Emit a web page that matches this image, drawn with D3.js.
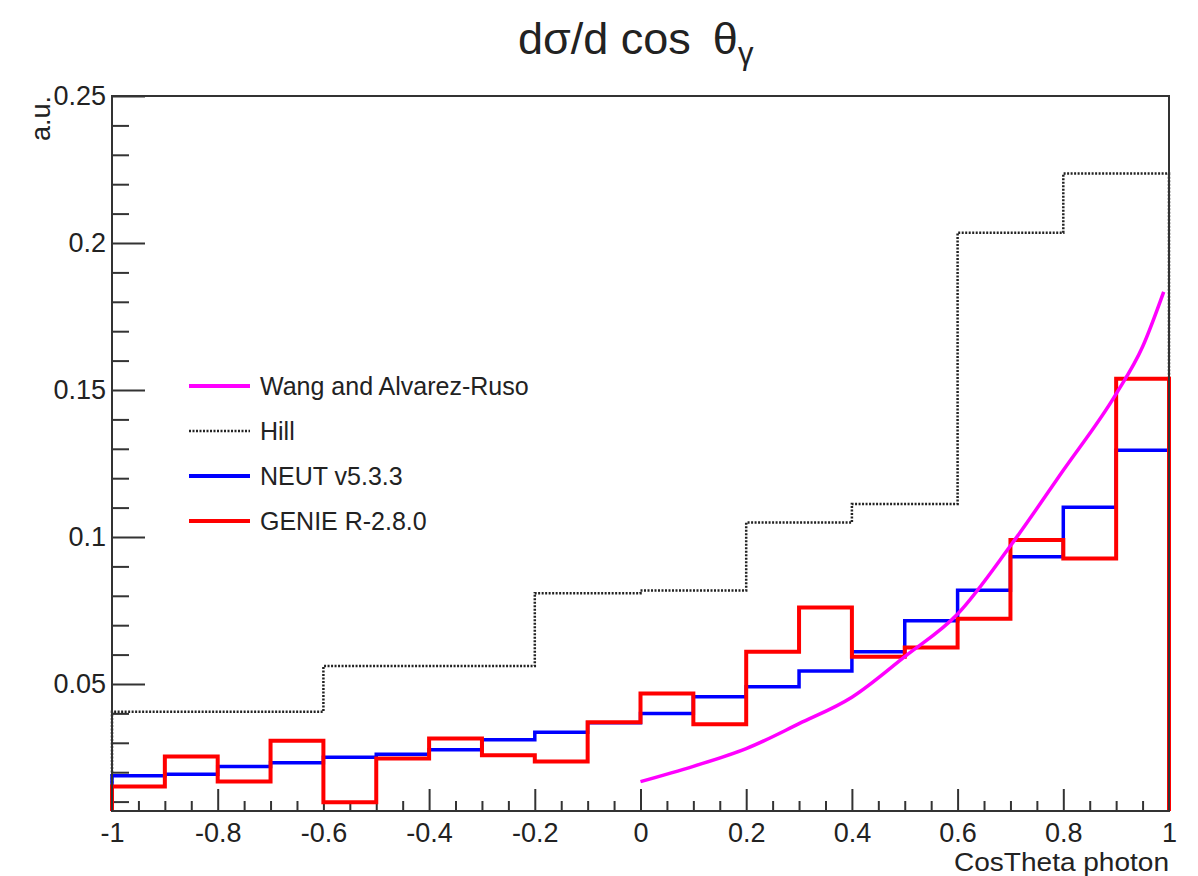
<!DOCTYPE html>
<html>
<head>
<meta charset="utf-8">
<script src="https://cdn.jsdelivr.net/npm/d3@7"></script>
<style>
  body { margin: 0; background: #fff; }
  text { font-family: "Liberation Sans", Arial, Helvetica, sans-serif; fill: #222; }
</style>
</head>
<body>
<div id="chart"></div>
<script>
// bin low edges (0.1 wide) for the generator histograms
var fineBins = [-1, -0.9, -0.8, -0.7, -0.6, -0.5, -0.4, -0.3, -0.2, -0.1,
                0, 0.1, 0.2, 0.3, 0.4, 0.5, 0.6, 0.7, 0.8, 0.9]
var fineWidth = 0.1
// Hill histogram uses 0.2 wide bins
var coarseBins = [-1, -0.8, -0.6, -0.4, -0.2, 0, 0.2, 0.4, 0.6, 0.8]
var coarseWidth = 0.2

var neut = [0.0188, 0.0193, 0.0219, 0.0232, 0.0251, 0.0261, 0.0276, 0.0310, 0.0336, 0.0368,
            0.0400, 0.0457, 0.0491, 0.0544, 0.0610, 0.0715, 0.0819, 0.0933, 0.1101, 0.1295]
var genie = [0.0151, 0.0253, 0.0168, 0.0307, 0.0098, 0.0247, 0.0315, 0.0258, 0.0236, 0.0370,
             0.0468, 0.0363, 0.0610, 0.0760, 0.0593, 0.0624, 0.0722, 0.0990, 0.0927, 0.1538]
var hill = [0.0406, 0.0406, 0.0561, 0.0561, 0.0809, 0.0818, 0.1049, 0.1112, 0.2035, 0.2236]

// Wang and Alvarez-Ruso curve
var wangX = [0, 0.1, 0.2, 0.3, 0.4, 0.5, 0.6, 0.7, 0.8, 0.9, 0.95, 0.99]
var wangY = [0.0168, 0.0220, 0.0280, 0.0365, 0.0455, 0.0593, 0.0738, 0.0970, 0.1227, 0.1487, 0.1647, 0.1834]

var xMajor = [-1, -0.8, -0.6, -0.4, -0.2, 0, 0.2, 0.4, 0.6, 0.8, 1]
var yMajor = [0.05, 0.1, 0.15, 0.2, 0.25]

var legendItems = [
  {name: "Wang and Alvarez-Ruso", color: "#ff00ff", dash: null},
  {name: "Hill", color: "#222", dash: "2,1.5"},
  {name: "NEUT v5.3.3", color: "#0000ff", dash: null},
  {name: "GENIE R-2.8.0", color: "#ff0000", dash: null}
]

// set the dimensions and margins of the graph
var W = 1198, H = 876
var margin = {top: 96, right: 29, bottom: 65, left: 112}

var svg = d3.select("#chart")
  .append("svg")
  .attr("width", W)
  .attr("height", H)

var x = d3.scaleLinear()
  .domain([-1, 1])
  .range([margin.left, W - margin.right])
var y = d3.scaleLinear()
  .domain([0.0068, 0.25])
  .range([H - margin.bottom, margin.top])
var yBase = y.domain()[0]

// minor ticks
var xMinor = []
for (var i = 0; i <= 40; i++) {
  var v = +(-1 + i * 0.05).toFixed(2)
  if (xMajor.indexOf(v) < 0) xMinor.push(v)
}
var yMinor = []
for (var j = 1; j <= 25; j++) {
  var w = +(j * 0.01).toFixed(2)
  if (yMajor.indexOf(w) < 0) yMinor.push(w)
}

var fmt = function(d) { return String(+d.toFixed(2)) }

// x axis
svg.append("g")
  .attr("transform", "translate(0," + (H - margin.bottom) + ")")
  .call(d3.axisBottom(x).tickValues(xMajor).tickSize(-22).tickPadding(12).tickFormat(fmt))
svg.append("g")
  .attr("transform", "translate(0," + (H - margin.bottom) + ")")
  .call(d3.axisBottom(x).tickValues(xMinor).tickSize(-10).tickFormat(""))

// y axis
svg.append("g")
  .attr("transform", "translate(" + margin.left + ",0)")
  .call(d3.axisLeft(y).tickValues(yMajor).tickSize(-33).tickPadding(6).tickFormat(fmt))
svg.append("g")
  .attr("transform", "translate(" + margin.left + ",0)")
  .call(d3.axisLeft(y).tickValues(yMinor).tickSize(-17).tickFormat(""))

svg.selectAll(".domain").remove()
svg.selectAll(".tick line").attr("stroke", "#333").attr("stroke-width", 2)
svg.selectAll(".tick text").style("font-size", "27px").attr("fill", "#222")

// histogram outlines
function stepPoints(lows, width, vals) {
  var pts = [[lows[0], yBase]]
  lows.forEach(function(l, k) { pts.push([l, vals[k]]) })
  var end = +(lows[lows.length - 1] + width).toFixed(2)
  pts.push([end, vals[vals.length - 1]])
  pts.push([end, yBase])
  return pts
}
var stepLine = d3.line()
  .x(function(d) { return x(d[0]) })
  .y(function(d) { return y(d[1]) })
  .curve(d3.curveStepAfter)

svg.append("path")
  .attr("d", stepLine(stepPoints(coarseBins, coarseWidth, hill)))
  .attr("fill", "none")
  .attr("stroke", "#222")
  .attr("stroke-width", 2.5)
  .attr("stroke-dasharray", "2,1.5")

svg.append("path")
  .attr("d", stepLine(stepPoints(fineBins, fineWidth, neut)))
  .attr("fill", "none")
  .attr("stroke", "#0000ff")
  .attr("stroke-width", 3.5)

svg.append("path")
  .attr("d", stepLine(stepPoints(fineBins, fineWidth, genie)))
  .attr("fill", "none")
  .attr("stroke", "#ff0000")
  .attr("stroke-width", 4)

var curveLine = d3.line()
  .x(function(d, k) { return x(wangX[k]) })
  .y(function(d) { return y(d) })
  .curve(d3.curveMonotoneX)
svg.append("path")
  .attr("d", curveLine(wangY))
  .attr("fill", "none")
  .attr("stroke", "#ff00ff")
  .attr("stroke-width", 3.5)

// frame
svg.append("rect")
  .attr("x", margin.left)
  .attr("y", margin.top)
  .attr("width", W - margin.left - margin.right)
  .attr("height", H - margin.top - margin.bottom)
  .attr("fill", "none")
  .attr("stroke", "#333")
  .attr("stroke-width", 2)

// axis titles
svg.append("text")
  .attr("x", W - margin.right)
  .attr("y", 871)
  .attr("text-anchor", "end")
  .attr("textLength", 215)
  .attr("lengthAdjust", "spacingAndGlyphs")
  .style("font-size", "25px")
  .text("CosTheta photon")

svg.append("text")
  .attr("transform", "translate(50," + margin.top + ") rotate(-90)")
  .attr("text-anchor", "end")
  .style("font-size", "27px")
  .text("a.u.")

// title
var title = svg.append("text")
  .attr("x", 518)
  .attr("y", 54)
  .style("font-size", "45px")
title.append("tspan").text("d\u03c3/d cos")
title.append("tspan").attr("dx", 22).text("\u03b8")
title.append("tspan").attr("dy", 10).style("font-size", "31px").text("\u03b3")

// legend
var legend = svg.append("g")
legendItems.forEach(function(it, k) {
  var ly = 386 + k * 45
  legend.append("line")
    .attr("x1", 189).attr("x2", 250)
    .attr("y1", ly).attr("y2", ly)
    .attr("stroke", it.color)
    .attr("stroke-width", it.dash ? 2.5 : 4)
    .attr("stroke-dasharray", it.dash)
  legend.append("text")
    .attr("x", 260)
    .attr("y", ly)
    .attr("dy", "0.35em")
    .style("font-size", "25px")
    .text(it.name)
})
</script>
</body>
</html>
